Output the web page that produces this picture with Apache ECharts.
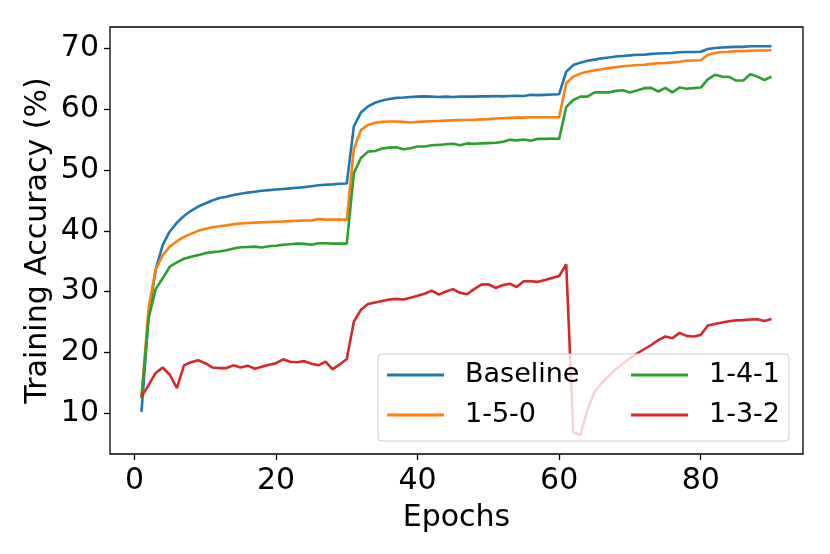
<!DOCTYPE html>
<html>
<head>
<meta charset="utf-8">
<script src="https://cdn.jsdelivr.net/npm/echarts@6/dist/echarts.min.js"></script>
<style>
html,body{margin:0;padding:0;background:#fff;}
#chart{width:830px;height:554px;}
</style>
</head>
<body>
<div id="chart"></div>
<script>
var epochs = [1,2,3,4,5,6,7,8,9,10,11,12,13,14,15,16,17,18,19,20,21,22,23,24,25,26,27,28,29,30,
  31,32,33,34,35,36,37,38,39,40,41,42,43,44,45,46,47,48,49,50,51,52,53,54,55,56,57,58,59,60,
  61,62,63,64,65,66,67,68,69,70,71,72,73,74,75,76,77,78,79,80,81,82,83,84,85,86,87,88,89,90];

var baseline = [10.2,26.0,33.6,37.7,39.9,41.35,42.45,43.3,44.0,44.5,45.0,45.4,45.6,45.9,46.1,46.3,46.45,46.6,46.7,46.8,46.9,47.0,47.1,47.2,47.35,47.5,47.6,47.65,47.75,47.8,
  57.2,59.5,60.5,61.1,61.45,61.7,61.9,61.95,62.05,62.1,62.15,62.1,62.05,62.1,62.05,62.1,62.1,62.1,62.15,62.15,62.2,62.15,62.2,62.25,62.2,62.4,62.35,62.4,62.45,62.5,
  66.2,67.3,67.7,68.0,68.2,68.4,68.55,68.7,68.8,68.9,69.0,69.0,69.15,69.2,69.25,69.3,69.4,69.45,69.45,69.5,69.95,70.1,70.2,70.25,70.3,70.3,70.4,70.4,70.4,70.4];

var cfg150 = [12.7,27.3,33.6,36.0,37.4,38.3,39.0,39.5,40.0,40.3,40.6,40.75,40.9,41.1,41.2,41.3,41.35,41.4,41.45,41.5,41.55,41.6,41.65,41.7,41.7,41.95,41.85,41.85,41.85,41.85,
  53.5,56.6,57.45,57.8,57.95,58.0,58.0,57.95,57.85,57.95,58.0,58.05,58.1,58.15,58.2,58.25,58.25,58.3,58.35,58.4,58.5,58.55,58.6,58.65,58.65,58.7,58.7,58.7,58.7,58.7,
  64.3,65.4,65.9,66.2,66.45,66.6,66.8,66.95,67.1,67.2,67.3,67.35,67.5,67.6,67.65,67.75,67.85,68.0,68.05,68.1,69.0,69.3,69.45,69.5,69.6,69.6,69.65,69.7,69.7,69.75];

var cfg141 = [12.4,25.6,30.4,32.2,34.1,34.8,35.4,35.75,36.0,36.3,36.5,36.6,36.8,37.1,37.3,37.35,37.4,37.25,37.45,37.55,37.7,37.8,37.9,37.85,37.7,37.95,37.95,37.9,37.9,37.9,
  49.5,52.0,53.05,53.15,53.55,53.7,53.75,53.45,53.6,53.9,53.9,54.1,54.15,54.25,54.35,54.1,54.4,54.35,54.4,54.45,54.5,54.65,55.0,54.9,55.05,54.85,55.15,55.15,55.2,55.15,
  60.4,61.55,62.1,62.1,62.8,62.8,62.8,63.05,63.15,62.8,63.1,63.5,63.55,62.95,63.55,62.8,63.6,63.4,63.5,63.6,64.95,65.7,65.4,65.35,64.75,64.75,65.8,65.4,64.85,65.4];

var cfg132 = [12.7,14.6,16.6,17.5,16.3,14.1,17.85,18.35,18.7,18.2,17.5,17.4,17.4,17.85,17.5,17.8,17.3,17.6,17.95,18.2,18.85,18.45,18.35,18.55,18.1,17.85,18.45,17.2,18.0,18.9,
  25.05,27.0,27.95,28.2,28.45,28.7,28.8,28.7,29.0,29.3,29.65,30.15,29.5,30.0,30.4,29.8,29.55,30.4,31.15,31.2,30.6,31.05,31.3,30.75,31.7,31.7,31.6,31.9,32.25,32.55,
  34.5,6.8,6.4,10.5,13.5,14.9,16.1,17.2,18.1,19.0,19.8,20.5,21.2,22.0,22.6,22.3,23.2,22.7,22.6,22.85,24.4,24.65,24.9,25.1,25.25,25.3,25.4,25.45,25.15,25.5];

var seriesNames = ['Baseline', '1-5-0', '1-4-1', '1-3-2'];
var seriesValues = [baseline, cfg150, cfg141, cfg132];
var seriesColors = ['#1f77b4', '#ff7f0e', '#2ca02c', '#d62728'];
var xTicks = [0, 20, 40, 60, 80];
var yTicks = [10, 20, 30, 40, 50, 60, 70];

var FONT = 'DejaVu Sans';

function pairs(vals) {
  return vals.map(function (v, i) { return [epochs[i], v]; });
}

var series = seriesNames.map(function (name, k) {
  return {
    name: name,
    type: 'line',
    data: pairs(seriesValues[k]),
    showSymbol: false,
    symbol: 'none',
    smooth: false,
    lineStyle: { color: seriesColors[k], width: 2.6 },
    itemStyle: { color: seriesColors[k] },
    emphasis: { disabled: true }
  };
});

var legendText = {
  fontFamily: FONT, fontSize: 27, color: '#000',
  lineHeight: 30, width: 120, padding: [0, 0, 0, 16]
};

var chart = echarts.init(document.getElementById('chart'), null, { renderer: 'canvas' });
chart.setOption({
  animation: false,
  backgroundColor: '#ffffff',
  grid: {
    left: 110, right: 27, top: 27, bottom: 100,
    show: true, borderColor: '#000', borderWidth: 1.3, backgroundColor: 'transparent'
  },
  xAxis: {
    type: 'value',
    min: -3.45, max: 94.45,
    name: 'Epochs',
    nameLocation: 'middle',
    nameGap: 49,
    nameMoveOverlap: false,
    nameTextStyle: { fontFamily: FONT, fontSize: 30, color: '#000' },
    axisLine: { show: false, onZero: false },
    axisTick: { show: true, length: 6, customValues: xTicks, lineStyle: { color: '#000', width: 1.3 } },
    axisLabel: { customValues: xTicks, margin: 12, fontFamily: FONT, fontSize: 30, color: '#000' },
    splitLine: { show: false }
  },
  yAxis: {
    type: 'value',
    min: 3.25, max: 73.57,
    name: 'Training Accuracy (%)',
    nameLocation: 'middle',
    nameGap: 57,
    nameMoveOverlap: false,
    nameTextStyle: { fontFamily: FONT, fontSize: 30, color: '#000' },
    axisLine: { show: false, onZero: false },
    axisTick: { show: true, length: 6, customValues: yTicks, lineStyle: { color: '#000', width: 1.3 } },
    axisLabel: { customValues: yTicks, margin: 11, fontFamily: FONT, fontSize: 30, color: '#000' },
    splitLine: { show: false }
  },
  legend: [
    {
      data: ['Baseline', '1-5-0'],
      orient: 'vertical',
      left: 378, top: 354,
      padding: [6, 204, 11, 9],
      itemGap: 10,
      itemWidth: 57, itemHeight: 3,
      icon: 'rect',
      selectedMode: false,
      backgroundColor: 'rgba(255,255,255,0.8)',
      borderColor: '#cccccc', borderWidth: 1, borderRadius: 4,
      textStyle: legendText
    },
    {
      data: ['1-4-1', '1-3-2'],
      orient: 'vertical',
      left: 631, top: 360,
      padding: 0,
      itemGap: 10,
      itemWidth: 57, itemHeight: 3,
      icon: 'rect',
      selectedMode: false,
      textStyle: legendText
    }
  ],
  series: series
});
</script>
</body>
</html>
